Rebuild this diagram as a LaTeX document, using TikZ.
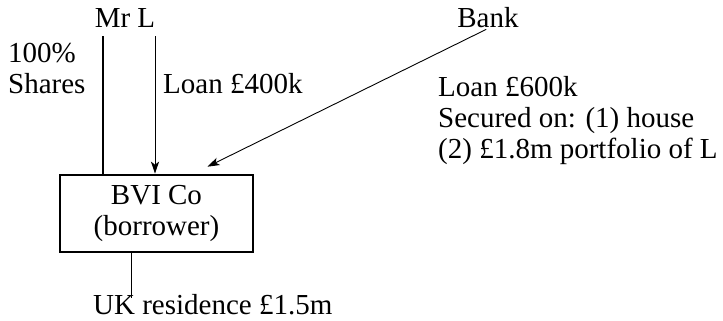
\documentclass[tikz,border=0pt]{standalone}
\usepackage{fontspec}
\setmainfont{Liberation Serif}
\usetikzlibrary{arrows.meta,positioning,calc}

\begin{document}
\begin{tikzpicture}[x=1pt, y=-1pt, every node/.style={font=\fontsize{29}{31}\selectfont, inner sep=0pt},
  loanarrow/.style={-{Stealth[length=12pt,width=8pt,inset=3pt]}, line width=0.9pt}]
\useasboundingbox (0,0) rectangle (723,321);
\node[anchor=base] (mrl) at (125,28) {Mr L};
\node[anchor=base] (bank) at (488,28) {Bank};
% multi-line nodes: base = last line
\node[anchor=base west, align=left] (shares) at (8,93) {100\%\\Shares};
\node[anchor=base west] (loanL) at (163,93) {Loan £400k};
\node[anchor=base west, align=left] (loanB) at (438,158) {Loan £600k\\Secured on: (1) house\\(2) £1.8m portfolio of L};
\node[draw, line width=2.6pt, minimum width=193pt, minimum height=77pt, align=center] (bvi) at (156.5,213.5) {BVI Co\\(borrower)};
\node[anchor=base west] (uk) at (93,314) {UK residence £1.5m};

\draw[line width=1.4pt, shorten <=8pt] ([xshift=-22pt]mrl.south) -- ([xshift=-22pt]mrl.south |- bvi.north);
\draw[loanarrow, shorten <=8pt] ([xshift=30pt]mrl.south) -- ([xshift=30pt]mrl.south |- bvi.north);
\draw[loanarrow, shorten <=2pt] (bank.south) -- ([xshift=51pt,yshift=7pt]bvi.north);
\draw[line width=1pt] ([xshift=-25pt]bvi.south) -- ([xshift=-25pt,yshift=-4pt]bvi.south |- uk.north);
\end{tikzpicture}
\end{document}
